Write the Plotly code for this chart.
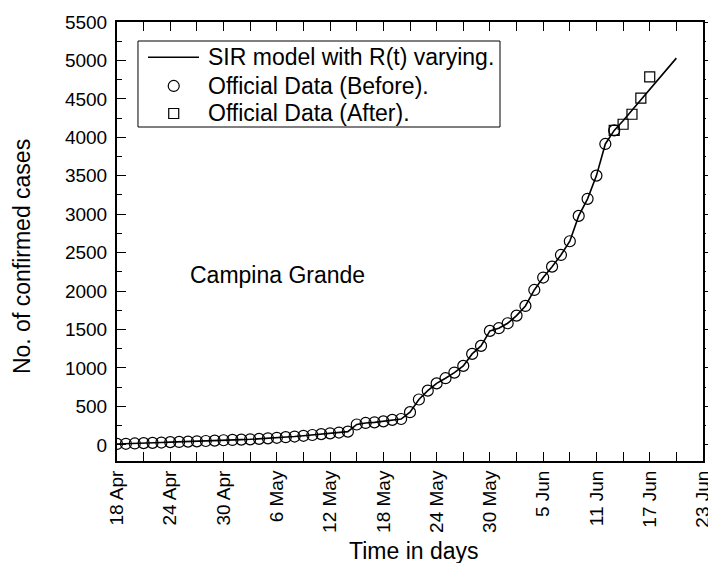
import datetime as dt
import plotly.graph_objects as go

# ---------------- data ----------------
start = dt.date(2020, 4, 18)

before_values = [12, 14, 18, 22, 26, 30, 35, 38, 42, 46, 50, 55, 60, 64, 68, 72,
                 78, 85, 92, 100, 108, 118, 128, 140, 150, 160, 172, 265, 285, 293,
                 305, 325, 336, 425, 590, 705, 800, 867, 940, 1027, 1183, 1287, 1482,
                 1517, 1582, 1681, 1807, 2015, 2176, 2318, 2470, 2648, 2978, 3200,
                 3502, 3914, 4090]
before_dates = [(start + dt.timedelta(days=i)).isoformat() for i in range(len(before_values))]

after_values = [4090, 4170, 4300, 4510, 4785]
after_dates = [(dt.date(2020, 6, 13) + dt.timedelta(days=i)).isoformat() for i in range(len(after_values))]

model_values = before_values + [4215, 4350, 4490, 4625, 4760, 4895, 5030]
model_dates = [(start + dt.timedelta(days=i)).isoformat() for i in range(len(model_values))]

tick_dates = [(start + dt.timedelta(days=6 * i)).isoformat() for i in range(12)]
tick_labels = ["18 Apr", "24 Apr", "30 Apr", "6 May", "12 May", "18 May",
               "24 May", "30 May", "5 Jun", "11 Jun", "17 Jun", "23 Jun"]

series_names = ["SIR model with R(t) varying.", "Official Data (Before).", "Official Data (After)."]

FONT = "Arial, Liberation Sans, sans-serif"
BLACK = "black"

fig = go.Figure()
fig.add_trace(go.Scatter(x=model_dates, y=model_values, mode="lines",
                         line=dict(color=BLACK, width=1.6),
                         name=series_names[0], showlegend=False))
fig.add_trace(go.Scatter(x=before_dates, y=before_values, mode="markers",
                         marker=dict(symbol="circle-open", size=11, color=BLACK,
                                     line=dict(width=1.2, color=BLACK)),
                         name=series_names[1], showlegend=False))
fig.add_trace(go.Scatter(x=after_dates, y=after_values, mode="markers",
                         marker=dict(symbol="square-open", size=10, color=BLACK,
                                     line=dict(width=1.2, color=BLACK)),
                         name=series_names[2], showlegend=False))
# invisible trace on right axis to carry outward ticks
fig.add_trace(go.Scatter(x=[model_dates[0]], y=[0], yaxis="y2", mode="markers",
                         marker=dict(opacity=0), showlegend=False, hoverinfo="skip"))

# ---------- legend box (drawn, in paper coordinates) ----------
leg_x0, leg_x1, leg_top, leg_bot = 0.0358, 0.6536, 0.9567, 0.7608
row_y = [0.9197, 0.8543, 0.7916]
sym_x = 0.0968
txt_x = 0.1527
fig.add_shape(type="rect", xref="paper", yref="paper", x0=leg_x0, x1=leg_x1,
              y0=leg_bot, y1=leg_top, line=dict(color=BLACK, width=1),
              fillcolor="white", layer="below")
fig.add_shape(type="line", xref="paper", yref="paper", x0=0.0529, x1=0.1399,
              y0=row_y[0], y1=row_y[0], line=dict(color=BLACK, width=1.6))
fig.add_shape(type="circle", xref="paper", yref="paper", xsizemode="pixel", ysizemode="pixel",
              xanchor=sym_x, yanchor=row_y[1], x0=-5.5, x1=5.5, y0=-5.5, y1=5.5,
              line=dict(color=BLACK, width=1.2))
fig.add_shape(type="rect", xref="paper", yref="paper", xsizemode="pixel", ysizemode="pixel",
              xanchor=sym_x, yanchor=row_y[2], x0=-5, x1=5, y0=-5, y1=5,
              line=dict(color=BLACK, width=1.2))
for name, ry in zip(series_names, row_y):
    fig.add_annotation(x=txt_x, y=ry, xref="paper", yref="paper", text=name,
                       showarrow=False, xanchor="left", yanchor="middle",
                       font=dict(family=FONT, size=23, color=BLACK))

fig.add_annotation(x="2020-04-26", y=2210, text="Campina Grande", showarrow=False,
                   xanchor="left", yanchor="middle",
                   font=dict(family=FONT, size=23, color=BLACK))

# axis titles
fig.add_annotation(x=-0.1620, y=0.4647, xref="paper", yref="paper",
                   text="No. of confirmed cases", textangle=-90, showarrow=False,
                   xanchor="center", yanchor="middle",
                   font=dict(family=FONT, size=23, color=BLACK))
fig.add_annotation(x=0.5068, y=-0.205, xref="paper", yref="paper",
                   text="Time in days", showarrow=False,
                   xanchor="center", yanchor="middle",
                   font=dict(family=FONT, size=23, color=BLACK))

fig.update_layout(
    width=708, height=563,
    margin=dict(l=117, r=5, t=22, b=102, autoexpand=False),
    paper_bgcolor="white", plot_bgcolor="white",
    font=dict(family=FONT, color=BLACK),
    showlegend=False,
    xaxis=dict(
        type="date",
        range=["2020-04-18", "2020-06-23"],
        tickmode="array", tickvals=tick_dates, ticktext=tick_labels,
        tickangle=-90, tickfont=dict(family=FONT, size=19, color=BLACK),
        ticks="inside", ticklen=9, tickwidth=1.2, tickcolor=BLACK,
        minor=dict(ticks="inside", ticklen=5, tickwidth=1.2, tickcolor=BLACK,
                   tick0="2020-04-18", dtick=3 * 86400000),
        showline=True, linecolor=BLACK, linewidth=2, mirror="allticks",
        showgrid=False, zeroline=False,
        automargin=False, ticklabeloverflow="allow",
    ),
    yaxis=dict(
        range=[-210, 5500],
        tickmode="linear", tick0=0, dtick=500,
        tickfont=dict(family=FONT, size=19, color=BLACK),
        ticks="inside", ticklen=9, tickwidth=1.2, tickcolor=BLACK,
        minor=dict(ticks="inside", ticklen=5, tickwidth=1.2, tickcolor=BLACK,
                   tick0=0, dtick=250),
        showline=True, linecolor=BLACK, linewidth=2, mirror=True,
        showgrid=False, zeroline=False,
        ticklabelstandoff=4, automargin=False,
    ),
    yaxis2=dict(
        overlaying="y", side="right", range=[-210, 5500],
        tickmode="linear", tick0=0, dtick=500, showticklabels=False,
        ticks="outside", ticklen=5, tickwidth=1.2, tickcolor=BLACK,
        minor=dict(ticks="outside", ticklen=2, tickwidth=1, tickcolor=BLACK,
                   tick0=0, dtick=250),
        showline=False, showgrid=False, zeroline=False, automargin=False,
    ),
)

fig.write_html("out.html")
